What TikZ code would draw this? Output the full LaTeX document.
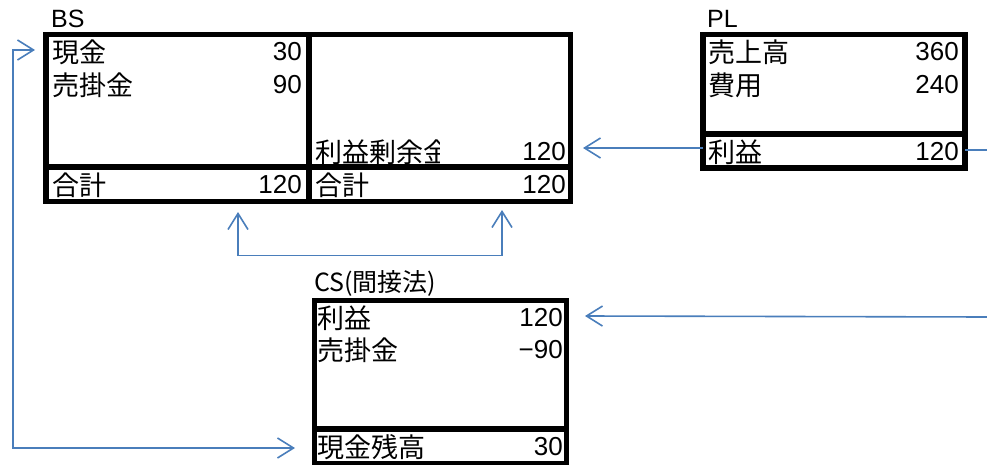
\documentclass[tikz,border=0pt]{standalone}
\usepackage{fontspec}
\setmainfont{Liberation Sans}
\newfontfamily\jp{Noto Sans CJK JP}
\usetikzlibrary{arrows.meta}
\definecolor{arrowblue}{RGB}{74,126,187}
\tikzset{
  cell/.style={draw=black, line width=5.5pt, inner sep=0pt, outer sep=0pt, rectangle},
  lbl/.style={anchor=west, inner sep=0pt, font=\jp\fontsize{27}{27}\selectfont},
  num/.style={anchor=east, inner sep=0pt, font=\fontsize{26}{26}\selectfont},
  ttl/.style={anchor=west, inner sep=0pt, font=\jp\fontsize{25}{25}\selectfont},
  barb/.tip={Straight Barb[length=16pt,width=20pt]},
  blline/.style={draw=arrowblue, line width=1.6pt},
}
\begin{document}
\begin{tikzpicture}[x=1pt,y=-1pt]
\useasboundingbox (0,0) rectangle (987,465);
% BS cells
\node[cell, minimum width=263pt, minimum height=132.5pt] (bsLT) at (177.5,100.75) {};
\node[cell, minimum width=263pt, minimum height=34.5pt] (bsLB) at (177.5,184.25) {};
\node[cell, minimum width=261.5pt, minimum height=132.5pt] (bsRT) at (439.75,100.75) {};
\node[cell, minimum width=261.5pt, minimum height=34.5pt] (bsRB) at (439.75,184.25) {};
% PL cells
\node[cell, minimum width=262pt, minimum height=99.5pt] (plT) at (834,84.25) {};
\node[cell, minimum width=262pt, minimum height=34pt] (plB) at (834,151) {};
% CS cells
\node[cell, minimum width=252pt, minimum height=128.5pt] (csT) at (440.5,364.75) {};
\node[cell, minimum width=252pt, minimum height=34.5pt] (csB) at (440.5,446.25) {};
% titles
\node[ttl, font=\fontsize{25}{25}\selectfont] (tBS) at (51,18.5) {BS};
\node[ttl, font=\fontsize{25}{25}\selectfont] (tPL) at (707,18.5) {PL};
\node[ttl] (tCS) at (314,283) {CS(間接法)};
% BS texts
\node[lbl] (bs1) at (52,52) {現金};
\node[num] (bs1n) at (302,52) {30};
\node[lbl] (bs2) at (52,85) {売掛金};
\node[num] (bs2n) at (302,85) {90};
\begin{scope}
  \clip (312,135) rectangle (439,164);
  \node[lbl] (bs3) at (315,152) {利益剰余金};
\end{scope}
\node[num] (bs3n) at (566,152) {120};
\node[lbl] (bs4) at (52,185) {合計};
\node[num] (bs4n) at (302,185) {120};
\node[lbl] (bs5) at (315,185) {合計};
\node[num] (bs5n) at (566,185) {120};
% PL texts
\node[lbl] (pl1) at (708,52) {売上高};
\node[num] (pl1n) at (959,52) {360};
\node[lbl] (pl2) at (708,85) {費用};
\node[num] (pl2n) at (959,85) {240};
\node[lbl] (pl3) at (708,152) {利益};
\node[num] (pl3n) at (959,152) {120};
% CS texts
\node[lbl] (cs1) at (317,318) {利益};
\node[num] (cs1n) at (563,318) {120};
\node[lbl] (cs2) at (317,350) {売掛金};
\node[num] (cs2n) at (563,350) {−90};
\node[lbl] (cs3) at (317,447) {現金残高};
\node[num] (cs3n) at (563,447) {30};
% connector coordinates
\coordinate (a1s) at (plB.west |- 0,148);
\coordinate (a1e) at (583,148);
\coordinate (a2s) at (plB.east |- 0,150);
\coordinate (a2e) at (987,150);
\coordinate (a3s) at (987,317);
\coordinate (a3e) at (585,316);
\coordinate (a4a) at (35,50);
\coordinate (a4b) at (13,50);
\coordinate (a4c) at (13,448);
\coordinate (a4d) at (295,448);
\coordinate (a5a) at (238,212);
\coordinate (a5b) at (238,255.5);
\coordinate (a5c) at (502,255.5);
\coordinate (a5d) at (502,210);
% connectors
\draw[blline, -barb] (a1s) -- (a1e);
\draw[blline] (a2s) -- (a2e);
\draw[blline, -barb] (a3s) -- (a3e);
\draw[blline, barb-barb] (a4a) -- (a4b) -- (a4c) -- (a4d);
\draw[blline, barb-barb] (a5a) -- (a5b) -- (a5c) -- (a5d);
\end{tikzpicture}
\end{document}
